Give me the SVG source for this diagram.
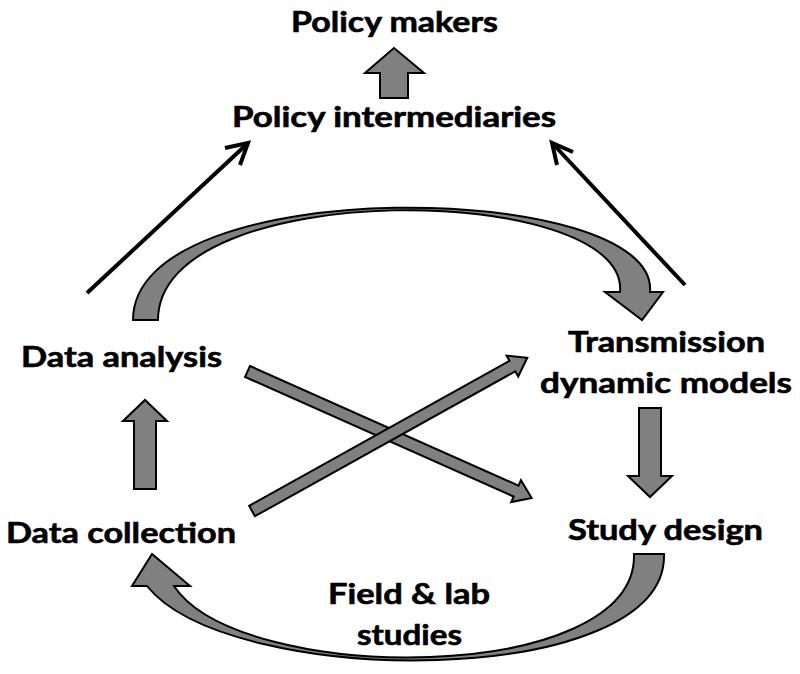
<svg xmlns="http://www.w3.org/2000/svg" width="800" height="674" viewBox="0 0 800 674">
<style>
text{font-family:Lato,"Open Sans","Liberation Sans",sans-serif;font-weight:700;font-size:28px;fill:#000;stroke:#000;stroke-width:0.6}
.blk{fill:#808080;stroke:#000;stroke-width:2;stroke-linejoin:miter}
.thin{fill:none;stroke:#000;stroke-width:4;stroke-linecap:butt;stroke-linejoin:miter}
</style>
<rect width="800" height="674" fill="#fff"/>
<g id="connectors">
<path class="blk" d="M380,98 L380,73 L365,73 L394,48 L424,73 L408,73 L408,98 Z"/>
<path class="blk" d="M134,489 L134,421 L123,421 L145,400 L167,421 L156,421 L156,489 Z"/>
<path class="blk" d="M639,408 L661,408 L661,476 L672,476 L650,497 L628,476 L639,476 Z"/>
<path class="blk" d="M133,320 C133,170 660,180 650,292 L663,292 L642,320 L605,292 L620,292 C630,182 158,175 158,320 Z"/>
<path class="blk" d="M664,554 C668,690 230,690 147,586 L132,586 L152,554 L190,586 L174,586 C240,686 638,686 634,554 Z"/>
<path class="blk" transform="translate(247.5,371.5) rotate(24)" d="M0,-6 L294,-6 L294,-12 L311,0 L294,12 L294,6 L0,6 Z"/>
<path class="blk" transform="translate(252,511) rotate(-29.1)" d="M0,-6 L298,-6 L298,-12 L315,0 L298,12 L298,6 L0,6 Z"/>
<line class="thin" x1="87" y1="293" x2="247" y2="144"/>
<polyline class="thin" points="225,148 248,143 240,165"/>
<line class="thin" x1="685" y1="285" x2="553" y2="144"/>
<polyline class="thin" points="573,152 552,143 557,165"/>
</g>
<g id="policy-makers"><text x="291" y="32" textLength="207" lengthAdjust="spacingAndGlyphs">Policy makers</text></g>
<g id="policy-intermediaries"><text x="232" y="127" textLength="324" lengthAdjust="spacingAndGlyphs">Policy intermediaries</text></g>
<g id="data-analysis"><text x="21" y="367" textLength="201" lengthAdjust="spacingAndGlyphs">Data analysis</text></g>
<g id="data-collection"><text x="6" y="543" textLength="230" lengthAdjust="spacingAndGlyphs">Data collection</text></g>
<g id="transmission-models"><text x="568" y="352" textLength="197" lengthAdjust="spacingAndGlyphs">Transmission</text><text x="540" y="393" textLength="252" lengthAdjust="spacingAndGlyphs">dynamic models</text></g>
<g id="study-design"><text x="568" y="540" textLength="195" lengthAdjust="spacingAndGlyphs">Study design</text></g>
<g id="field-lab"><text x="328" y="604" textLength="162" lengthAdjust="spacingAndGlyphs">Field &amp; lab</text><text x="357" y="645" textLength="105" lengthAdjust="spacingAndGlyphs">studies</text></g>
</svg>
